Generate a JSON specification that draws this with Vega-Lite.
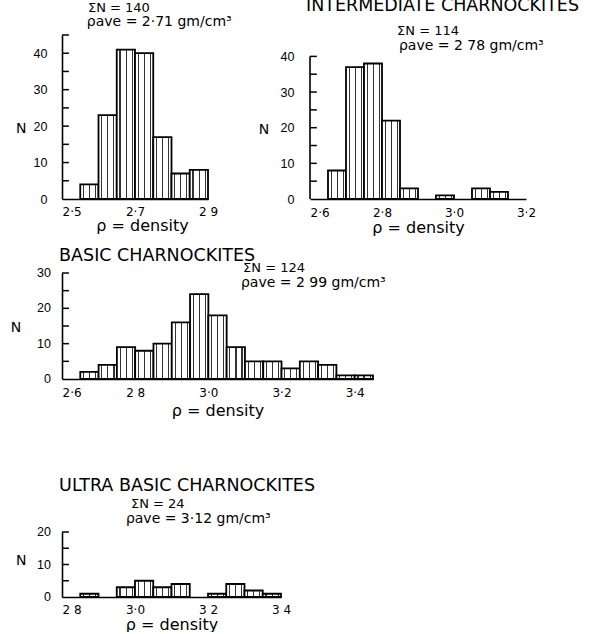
{
  "$schema": "https://vega.github.io/schema/vega-lite/v6.json",
  "padding": {"left": 10, "top": -4, "right": 0, "bottom": 0},
  "background": "white",
  "bounds": "flush",
  "spacing": 238,
  "config": {
    "view": {"stroke": null},
    "font": "DejaVu Sans",
    "axis": {
      "grid": false,
      "domainColor": "black",
      "domainWidth": 1.6,
      "ticks": false,
      "labelColor": "black",
      "titleColor": "black",
      "labelFont": "DejaVu Sans",
      "titleFont": "DejaVu Sans",
      "labelFontSize": 12,
      "titleFontSize": 16,
      "titleFontWeight": "normal",
      "labelOverlap": false,
      "labelBound": false
    },
    "axisY": {"labelFont": "Liberation Sans", "labelFontSize": 12.5, "labelOverlap": false},
    "text": {"font": "DejaVu Sans", "color": "black"}
  },
  "vconcat": [
    {
      "bounds": "flush",
      "spacing": 102,
      "hconcat": [
        {
          "width": 146,
          "height": 164,
          "layer": [
            {
              "data": {"values": [
                {"lo": 2.55, "hi": 2.60, "n": 4},
                {"lo": 2.60, "hi": 2.65, "n": 23},
                {"lo": 2.65, "hi": 2.70, "n": 41},
                {"lo": 2.70, "hi": 2.75, "n": 40},
                {"lo": 2.75, "hi": 2.80, "n": 17},
                {"lo": 2.80, "hi": 2.85, "n": 7},
                {"lo": 2.85, "hi": 2.90, "n": 8}
              ]},
              "mark": {"type": "rect", "stroke": "black", "strokeWidth": 1.8,
                "fill": {"gradient": "linear", "x1": 0, "y1": 0, "x2": 1, "y2": 0, "stops": [
                  {"offset": 0, "color": "white"}, {"offset": 0.15, "color": "white"}, {"offset": 0.15, "color": "#333"}, {"offset": 0.21, "color": "#333"}, {"offset": 0.21, "color": "white"}, {"offset": 0.48, "color": "white"}, {"offset": 0.48, "color": "#333"}, {"offset": 0.54, "color": "#333"}, {"offset": 0.54, "color": "white"}, {"offset": 0.81, "color": "white"}, {"offset": 0.81, "color": "#333"}, {"offset": 0.87, "color": "#333"}, {"offset": 0.87, "color": "white"}, {"offset": 1, "color": "white"}]}},
              "encoding": {
                "x": {"field": "lo", "type": "quantitative", "scale": {"domain": [2.5, 2.9], "nice": false, "zero": false},
                  "axis": {"title": "ρ = density", "values": [2.5, 2.7, 2.9], "format": ".1f", "labelPadding": 7, "labelFlush": false,
                    "labelExpr": "datum.value == 2.9 ? '2 9' : replace(datum.label, '.', '·')",
                    "labelAlign": {"condition": {"test": "datum.value == 2.5", "value": "left"}, "value": "center"},
                    "titleX": 80, "titleY": 26, "titleBaseline": "middle"}},
                "x2": {"field": "hi"},
                "y": {"field": "n", "type": "quantitative", "scale": {"domain": [0, 45], "nice": false},
                  "axis": {"title": null, "values": [0, 10, 20, 30, 40], "labelPadding": 15, "labelOverlap": false}},
                "y2": {"datum": 0}
              }
            },
            {
              "data": {"values": [{"v": 5}, {"v": 10}, {"v": 15}, {"v": 20}, {"v": 25}, {"v": 30}, {"v": 35}, {"v": 40}, {"v": 45}]},
              "mark": {"type": "rule", "stroke": "black", "strokeWidth": 1.5},
              "encoding": {"x": {"datum": 2.5}, "x2": {"datum": 2.519}, "y": {"field": "v", "type": "quantitative"}}
            },
            {
              "data": {"values": [{}]},
              "mark": {"type": "text", "align": "center", "baseline": "middle", "fontSize": 14},
              "encoding": {"x": {"datum": 2.388}, "y": {"datum": 19.3}, "text": {"value": "N"}}
            },
            {
              "data": {"values": [{}]},
              "mark": {"type": "text", "align": "left", "baseline": "middle", "fontSize": 13},
              "encoding": {"x": {"datum": 2.571}, "y": {"datum": 52.5}, "text": {"value": "ΣN = 140"}}
            },
            {
              "data": {"values": [{}]},
              "mark": {"type": "text", "align": "left", "baseline": "middle", "fontSize": 14},
              "encoding": {"x": {"datum": 2.568}, "y": {"datum": 48.5}, "text": {"value": "ρave = 2·71 gm/cm³"}}
            }
          ]
        },
        {
          "width": 216,
          "height": 164,
          "layer": [
            {
              "data": {"values": [
                {"lo": 2.65, "hi": 2.70, "n": 8},
                {"lo": 2.70, "hi": 2.75, "n": 37},
                {"lo": 2.75, "hi": 2.80, "n": 38},
                {"lo": 2.80, "hi": 2.85, "n": 22},
                {"lo": 2.85, "hi": 2.90, "n": 3},
                {"lo": 2.95, "hi": 3.00, "n": 1},
                {"lo": 3.05, "hi": 3.10, "n": 3},
                {"lo": 3.10, "hi": 3.15, "n": 2}
              ]},
              "mark": {"type": "rect", "stroke": "black", "strokeWidth": 1.8,
                "fill": {"gradient": "linear", "x1": 0, "y1": 0, "x2": 1, "y2": 0, "stops": [
                  {"offset": 0, "color": "white"}, {"offset": 0.15, "color": "white"}, {"offset": 0.15, "color": "#333"}, {"offset": 0.21, "color": "#333"}, {"offset": 0.21, "color": "white"}, {"offset": 0.48, "color": "white"}, {"offset": 0.48, "color": "#333"}, {"offset": 0.54, "color": "#333"}, {"offset": 0.54, "color": "white"}, {"offset": 0.81, "color": "white"}, {"offset": 0.81, "color": "#333"}, {"offset": 0.87, "color": "#333"}, {"offset": 0.87, "color": "white"}, {"offset": 1, "color": "white"}]}},
              "encoding": {
                "x": {"field": "lo", "type": "quantitative", "scale": {"domain": [2.6, 3.2], "nice": false, "zero": false},
                  "axis": {"title": "ρ = density", "values": [2.6, 2.8, 3.0, 3.2], "format": ".1f", "labelPadding": 8, "labelFlush": false,
                    "labelExpr": "replace(datum.label, '.', '·')",
                    "labelAlign": {"condition": {"test": "datum.value == 2.6", "value": "left"}, "value": "center"},
                    "titleY": 28, "titleBaseline": "middle"}},
                "x2": {"field": "hi"},
                "y": {"field": "n", "type": "quantitative", "scale": {"domain": [0, 46], "nice": false},
                  "axis": {"title": null, "values": [0, 10, 20, 30, 40], "labelPadding": 16, "domain": false, "labelOverlap": false}},
                "y2": {"datum": 0}
              }
            },
            {
              "data": {"values": [{}]},
              "mark": {"type": "rule", "stroke": "black", "strokeWidth": 1.6},
              "encoding": {"x": {"datum": 2.6}, "y": {"datum": 0}, "y2": {"datum": 40}}
            },
            {
              "data": {"values": [{"v": 5}, {"v": 10}, {"v": 15}, {"v": 20}, {"v": 25}, {"v": 30}, {"v": 35}, {"v": 40}]},
              "mark": {"type": "rule", "stroke": "black", "strokeWidth": 1.5},
              "encoding": {"x": {"datum": 2.6}, "x2": {"datum": 2.619}, "y": {"field": "v", "type": "quantitative"}}
            },
            {
              "data": {"values": [{}]},
              "mark": {"type": "text", "align": "center", "baseline": "middle", "fontSize": 14},
              "encoding": {"x": {"datum": 2.472}, "y": {"datum": 19.4}, "text": {"value": "N"}}
            },
            {
              "data": {"values": [{}]},
              "mark": {"type": "text", "align": "left", "baseline": "middle", "fontSize": 17.5},
              "encoding": {"x": {"datum": 2.589}, "y": {"datum": 54.2}, "text": {"value": "INTERMEDIATE CHARNOCKITES"}}
            },
            {
              "data": {"values": [{}]},
              "mark": {"type": "text", "align": "left", "baseline": "middle", "fontSize": 13},
              "encoding": {"x": {"datum": 2.842}, "y": {"datum": 47.0}, "text": {"value": "ΣN = 114"}}
            },
            {
              "data": {"values": [{}]},
              "mark": {"type": "text", "align": "left", "baseline": "middle", "fontSize": 14},
              "encoding": {"x": {"datum": 2.847}, "y": {"datum": 43.0}, "text": {"value": "ρave = 2 78 gm/cm³"}}
            }
          ]
        }
      ]
    },
    {
      "bounds": "flush",
      "spacing": 153,
      "vconcat": [
        {
          "width": 311,
          "height": 106,
          "layer": [
            {
              "data": {"values": [
                {"lo": 2.65, "hi": 2.70, "n": 2},
                {"lo": 2.70, "hi": 2.75, "n": 4},
                {"lo": 2.75, "hi": 2.80, "n": 9},
                {"lo": 2.80, "hi": 2.85, "n": 8},
                {"lo": 2.85, "hi": 2.90, "n": 10},
                {"lo": 2.90, "hi": 2.95, "n": 16},
                {"lo": 2.95, "hi": 3.00, "n": 24},
                {"lo": 3.00, "hi": 3.05, "n": 18},
                {"lo": 3.05, "hi": 3.10, "n": 9},
                {"lo": 3.10, "hi": 3.15, "n": 5},
                {"lo": 3.15, "hi": 3.20, "n": 5},
                {"lo": 3.20, "hi": 3.25, "n": 3},
                {"lo": 3.25, "hi": 3.30, "n": 5},
                {"lo": 3.30, "hi": 3.35, "n": 4},
                {"lo": 3.35, "hi": 3.40, "n": 1},
                {"lo": 3.40, "hi": 3.45, "n": 1}
              ]},
              "mark": {"type": "rect", "stroke": "black", "strokeWidth": 1.8,
                "fill": {"gradient": "linear", "x1": 0, "y1": 0, "x2": 1, "y2": 0, "stops": [
                  {"offset": 0, "color": "white"}, {"offset": 0.15, "color": "white"}, {"offset": 0.15, "color": "#333"}, {"offset": 0.21, "color": "#333"}, {"offset": 0.21, "color": "white"}, {"offset": 0.48, "color": "white"}, {"offset": 0.48, "color": "#333"}, {"offset": 0.54, "color": "#333"}, {"offset": 0.54, "color": "white"}, {"offset": 0.81, "color": "white"}, {"offset": 0.81, "color": "#333"}, {"offset": 0.87, "color": "#333"}, {"offset": 0.87, "color": "white"}, {"offset": 1, "color": "white"}]}},
              "encoding": {
                "x": {"field": "lo", "type": "quantitative", "scale": {"domain": [2.6, 3.45], "nice": false, "zero": false},
                  "axis": {"title": "ρ = density", "values": [2.6, 2.8, 3.0, 3.2, 3.4], "format": ".1f", "labelPadding": 8, "labelFlush": false,
                    "labelExpr": "datum.value == 2.8 ? '2 8' : replace(datum.label, '.', '·')",
                    "labelAlign": {"condition": {"test": "datum.value == 2.6", "value": "left"}, "value": "center"},
                    "titleY": 31, "titleBaseline": "middle"}},
                "x2": {"field": "hi"},
                "y": {"field": "n", "type": "quantitative", "scale": {"domain": [0, 30], "nice": false},
                  "axis": {"title": null, "labels": false, "values": [0, 10, 20, 30]}},
                "y2": {"datum": 0}
              }
            },
            {
              "data": {"values": [{"v": 5}, {"v": 10}, {"v": 15}, {"v": 20}, {"v": 25}, {"v": 30}]},
              "mark": {"type": "rule", "stroke": "black", "strokeWidth": 1.5},
              "encoding": {"x": {"datum": 2.6}, "x2": {"datum": 2.619}, "y": {"field": "v", "type": "quantitative"}}
            },
            {
              "data": {"values": [{"v": 0}, {"v": 10}, {"v": 20}, {"v": 30}]},
              "mark": {"type": "text", "align": "right", "baseline": "middle", "dx": -11, "font": "Liberation Sans", "fontSize": 12.5},
              "encoding": {"x": {"datum": 2.6}, "y": {"field": "v", "type": "quantitative"}, "text": {"field": "v", "type": "quantitative"}}
            },
            {
              "data": {"values": [{}]},
              "mark": {"type": "text", "align": "center", "baseline": "middle", "fontSize": 14},
              "encoding": {"x": {"datum": 2.474}, "y": {"datum": 14.4}, "text": {"value": "N"}}
            },
            {
              "data": {"values": [{}]},
              "mark": {"type": "text", "align": "left", "baseline": "middle", "fontSize": 17.5},
              "encoding": {"x": {"datum": 2.592}, "y": {"datum": 34.7}, "text": {"value": "BASIC CHARNOCKITES"}}
            },
            {
              "data": {"values": [{}]},
              "mark": {"type": "text", "align": "left", "baseline": "middle", "fontSize": 13},
              "encoding": {"x": {"datum": 3.095}, "y": {"datum": 31.3}, "text": {"value": "ΣN = 124"}}
            },
            {
              "data": {"values": [{}]},
              "mark": {"type": "text", "align": "left", "baseline": "middle", "fontSize": 14},
              "encoding": {"x": {"datum": 3.089}, "y": {"datum": 27.1}, "text": {"value": "ρave = 2 99 gm/cm³"}}
            }
          ]
        },
        {
          "width": 219,
          "height": 65,
          "layer": [
            {
              "data": {"values": [
                {"lo": 2.85, "hi": 2.90, "n": 1},
                {"lo": 2.95, "hi": 3.00, "n": 3},
                {"lo": 3.00, "hi": 3.05, "n": 5},
                {"lo": 3.05, "hi": 3.10, "n": 3},
                {"lo": 3.10, "hi": 3.15, "n": 4},
                {"lo": 3.20, "hi": 3.25, "n": 1},
                {"lo": 3.25, "hi": 3.30, "n": 4},
                {"lo": 3.30, "hi": 3.35, "n": 2},
                {"lo": 3.35, "hi": 3.40, "n": 1}
              ]},
              "mark": {"type": "rect", "stroke": "black", "strokeWidth": 1.8,
                "fill": {"gradient": "linear", "x1": 0, "y1": 0, "x2": 1, "y2": 0, "stops": [
                  {"offset": 0, "color": "white"}, {"offset": 0.15, "color": "white"}, {"offset": 0.15, "color": "#333"}, {"offset": 0.21, "color": "#333"}, {"offset": 0.21, "color": "white"}, {"offset": 0.48, "color": "white"}, {"offset": 0.48, "color": "#333"}, {"offset": 0.54, "color": "#333"}, {"offset": 0.54, "color": "white"}, {"offset": 0.81, "color": "white"}, {"offset": 0.81, "color": "#333"}, {"offset": 0.87, "color": "#333"}, {"offset": 0.87, "color": "white"}, {"offset": 1, "color": "white"}]}},
              "encoding": {
                "x": {"field": "lo", "type": "quantitative", "scale": {"domain": [2.8, 3.4], "nice": false, "zero": false},
                  "axis": {"title": "ρ = density", "values": [2.8, 3.0, 3.2, 3.4], "format": ".1f", "labelPadding": 7, "labelFlush": false,
                    "labelExpr": "datum.value == 3.0 ? '3·0' : replace(datum.label, '.', ' ')",
                    "labelAlign": {"condition": {"test": "datum.value == 2.8", "value": "left"}, "value": "center"},
                    "titleY": 27, "titleBaseline": "middle"}},
                "x2": {"field": "hi"},
                "y": {"field": "n", "type": "quantitative", "scale": {"domain": [0, 20], "nice": false},
                  "axis": {"title": null, "labels": false, "values": [0, 10, 20]}},
                "y2": {"datum": 0}
              }
            },
            {
              "data": {"values": [{"v": 5}, {"v": 10}, {"v": 15}, {"v": 20}]},
              "mark": {"type": "rule", "stroke": "black", "strokeWidth": 1.5},
              "encoding": {"x": {"datum": 2.8}, "x2": {"datum": 2.819}, "y": {"field": "v", "type": "quantitative"}}
            },
            {
              "data": {"values": [{"v": 0}, {"v": 10}, {"v": 20}]},
              "mark": {"type": "text", "align": "right", "baseline": "middle", "dx": -11, "font": "Liberation Sans", "fontSize": 12.5},
              "encoding": {"x": {"datum": 2.8}, "y": {"field": "v", "type": "quantitative"}, "text": {"field": "v", "type": "quantitative"}}
            },
            {
              "data": {"values": [{}]},
              "mark": {"type": "text", "align": "center", "baseline": "middle", "fontSize": 14},
              "encoding": {"x": {"datum": 2.688}, "y": {"datum": 11.1}, "text": {"value": "N"}}
            },
            {
              "data": {"values": [{}]},
              "mark": {"type": "text", "align": "left", "baseline": "middle", "fontSize": 17.5},
              "encoding": {"x": {"datum": 2.792}, "y": {"datum": 34.2}, "text": {"value": "ULTRA BASIC CHARNOCKITES"}}
            },
            {
              "data": {"values": [{}]},
              "mark": {"type": "text", "align": "left", "baseline": "middle", "fontSize": 13},
              "encoding": {"x": {"datum": 2.989}, "y": {"datum": 28.6}, "text": {"value": "ΣN = 24"}}
            },
            {
              "data": {"values": [{}]},
              "mark": {"type": "text", "align": "left", "baseline": "middle", "fontSize": 14},
              "encoding": {"x": {"datum": 2.975}, "y": {"datum": 24.0}, "text": {"value": "ρave = 3·12 gm/cm³"}}
            }
          ]
        }
      ]
    }
  ]
}
